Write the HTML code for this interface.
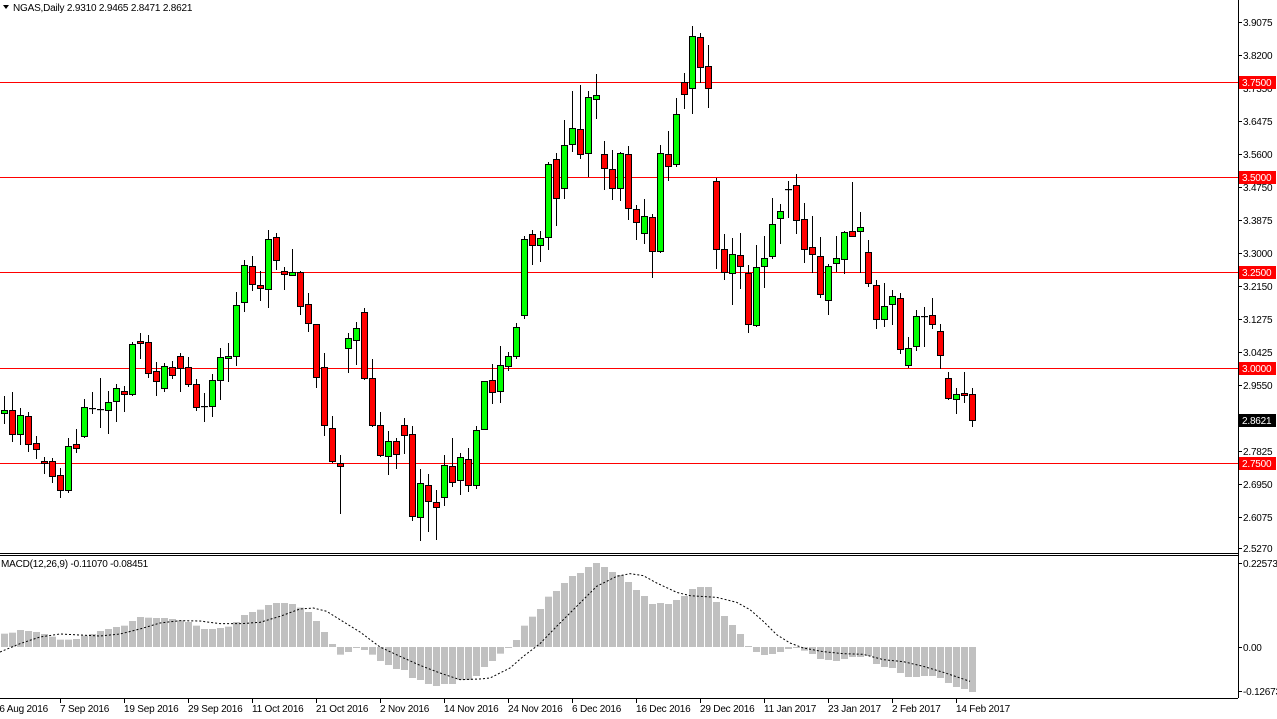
<!DOCTYPE html>
<html><head><meta charset="utf-8"><style>
html,body{margin:0;padding:0;background:#fff;width:1277px;height:719px;overflow:hidden}
svg{display:block}
text{font-family:"Liberation Sans",sans-serif;font-size:10px;letter-spacing:-0.2px;fill:#000}
</style></head><body>
<svg id="s" width="1277" height="719" viewBox="0 0 1277 719" xmlns="http://www.w3.org/2000/svg">
<rect x="0" y="0" width="1277" height="719" fill="#fff"/>
<g id="hist"></g>
<polyline id="sig" fill="none" stroke="#000" stroke-width="1" stroke-dasharray="2,2"/>
<g id="lines">
<line x1="0" y1="82.5" x2="1238" y2="82.5" stroke="#f00"/>
<line x1="0" y1="177.5" x2="1238" y2="177.5" stroke="#f00"/>
<line x1="0" y1="272.5" x2="1238" y2="272.5" stroke="#f00"/>
<line x1="0" y1="368.5" x2="1238" y2="368.5" stroke="#f00"/>
<line x1="0" y1="463.5" x2="1238" y2="463.5" stroke="#f00"/>
</g>
<g id="candles"></g>
<line x1="1238.5" y1="0" x2="1238.5" y2="698" stroke="#000"/>
<line x1="0" y1="553.5" x2="1238" y2="553.5" stroke="#000"/>
<line x1="0" y1="555.5" x2="1238" y2="555.5" stroke="#000"/>
<line x1="0" y1="698.5" x2="1238" y2="698.5" stroke="#000"/>
<g id="axis"></g>
<path d="M3 5 L9 5 L6 9 Z" fill="#000"/>
<text x="13" y="11">NGAS,Daily  2.9310 2.9465 2.8471 2.8621</text>
<text x="1" y="567">MACD(12,26,9) -0.11070 -0.08451</text>
</svg>
<script>
var NS="http://www.w3.org/2000/svg";
function el(p,t,a,txt){var e=document.createElementNS(NS,t);for(var k in a)e.setAttribute(k,a[k]);if(txt!=null)e.textContent=txt;p.appendChild(e);return e;}
var C=[[410,413,396,423,'g'],[410,434,392,441,'r'],[415,434,408,444,'g'],[416,444,412,451,'r'],[443,449,436,458,'r'],[461,463,457,473,'r'],[461,476,458,482,'r'],[475,490,468,497,'r'],[446,490,438,492,'g'],[444,448,429,452,'r'],
[407,436,399,437,'g'],[408,408,392,413,'d'],[409,409,378,427,'d'],[402,410,391,433,'g'],[388,401,384,421,'g'],[391,394,386,411,'r'],[344,394,342,395,'g'],[341,343,333,358,'r'],[342,373,335,377,'r'],[371,381,362,395,'r'],
[366,388,363,391,'g'],[367,375,361,378,'r'],[356,368,353,391,'r'],[367,384,357,386,'r'],[384,407,379,410,'r'],[406,406,393,421,'d'],[380,406,374,416,'g'],[357,380,348,399,'g'],[356,357,343,381,'g'],[305,356,292,365,'g'],
[265,302,260,311,'g'],[266,284,256,290,'r'],[285,288,271,300,'r'],[239,289,230,307,'g'],[237,260,233,269,'r'],[271,274,267,289,'r'],[272,275,249,275,'g'],[272,306,271,314,'r'],[304,323,293,331,'r'],[324,377,324,387,'r'],
[367,425,353,435,'r'],[428,461,416,462,'r'],[463,466,455,513,'r'],[338,348,333,372,'g'],[328,340,322,364,'g'],[312,378,308,379,'r'],[378,425,359,426,'r'],[425,455,412,456,'r'],[441,456,431,474,'g'],[441,454,438,468,'r'],
[425,435,418,453,'r'],[434,516,426,520,'r'],[483,517,469,540,'g'],[485,501,474,531,'r'],[502,507,490,539,'r'],[465,497,455,505,'g'],[466,482,438,486,'r'],[457,480,453,494,'g'],[459,485,448,491,'r'],[430,485,426,488,'g'],
[381,429,381,429,'g'],[380,392,364,403,'r'],[365,391,346,402,'g'],[356,366,352,370,'g'],[327,356,323,358,'g'],[239,315,236,318,'g'],[234,245,230,264,'r'],[238,245,231,261,'g'],[164,237,162,249,'g'],[159,198,153,225,'r'],
[145,188,120,198,'g'],[128,144,91,151,'g'],[129,154,85,158,'r'],[97,153,91,176,'g'],[95,99,74,118,'g'],[154,168,141,189,'r'],[169,188,150,199,'r'],[153,188,152,200,'g'],[154,208,146,219,'r'],[209,222,205,239,'r'],
[216,233,199,243,'g'],[217,251,214,277,'r'],[153,251,145,252,'g'],[154,166,131,180,'r'],[114,164,98,166,'g'],[82,94,73,108,'r'],[36,88,26,113,'g'],[37,67,33,82,'r'],[66,88,45,107,'r'],[181,249,178,268,'r'],
[249,272,234,279,'r'],[254,273,238,304,'g'],[255,266,233,288,'r'],[273,324,265,332,'r'],[267,325,245,326,'g'],[258,266,236,287,'g'],[224,256,198,258,'g'],[211,218,204,243,'g'],[189,189,181,217,'d'],[185,220,174,233,'r'],
[219,249,203,262,'r'],[247,254,216,272,'r'],[256,294,237,297,'r'],[266,300,264,314,'g'],[258,263,236,271,'g'],[232,259,231,273,'g'],[231,236,182,236,'r'],[227,231,212,272,'g'],[252,283,240,286,'r'],[285,319,280,328,'r'],
[306,319,283,326,'g'],[296,304,290,324,'g'],[298,349,293,353,'r'],[348,365,337,367,'g'],[316,346,310,350,'g'],[316,316,307,346,'d'],[315,324,298,328,'r'],[331,355,324,368,'r'],[378,398,372,399,'r'],[394,399,388,413,'g'],
[393,395,372,402,'r'],[394,420,388,426,'r']];
var cg=document.getElementById('candles');
C.forEach(function(c,i){var x=4+8*i;
 el(cg,'line',{x1:x+0.5,y1:c[2],x2:x+0.5,y2:c[3]+1,stroke:'#000','stroke-width':1});
 if(c[4]=='d'){el(cg,'rect',{x:x-3,y:c[0],width:7,height:1.2,fill:'#000'});}
 else{var h=Math.max(c[1]-c[0],2);el(cg,'rect',{x:x-2.5,y:c[0]+0.5,width:6,height:h,fill:c[4]=='g'?'#00ff00':'#ff0000',stroke:'#000','stroke-width':1});}
});
var H=[242,239,231,234,237,243,251,260,260,258,248,243,234,228,222,218,204,192,194,195,195,198,202,207,218,228,228,225,221,207,186,177,170,156,150,150,153,164,177,204,237,273,305,297,284,291,305,324,336,348,351,375,381,393,399,393,393,381,381,369,342,324,302,
285,261,218,191,168,131,114,90,69,60,42,30,42,57,66,87,111,129,153,150,153,141,129,108,102,102,147,189,216,243,279,297,306,303,297,288,285,293,303,318,321,324,318,312,312,309,333,342,345,360,372,372,369,369,375,390,402,408,417];
var hg=document.getElementById('hist');
H.forEach(function(z,i){var x=4+8*i;var y=553+z/3;var t=Math.min(y,647),b=Math.max(y,647);if(b-t<1)b=t+1;
 el(hg,'rect',{x:x-3,y:t,width:7,height:b-t,fill:'#c0c0c0'});});
var S1=[[0,297],[60,272],[120,252],[180,243],[240,246],[300,249],[360,243],[420,228],[480,210],[540,203],[600,204],[660,212],[720,212],[780,208],[840,190],[900,168],[940,165],[980,175],[1020,200],[1080,237],[1140,282],[1200,310],[1260,337],[1320,360],[1380,380],[1440,378],[1470,375]];
var S2=[[0,375],[60,345],[100,310],[150,272],[200,220],[260,160],[320,100],[380,70],[420,62],[460,68],[500,90],[560,118],[600,128],[680,133],[740,148],[780,170],[820,205],[860,245],[900,270],[940,285],[1000,296],[1060,302],[1120,304],[1180,320],[1240,326],[1300,340],[1360,358],[1440,385]];
var pts=S1.map(function(p){return (p[0]/3)+','+(553+p[1]/3)}).concat(S2.map(function(p){return (490+p[0]/3)+','+(553+p[1]/3)}));
document.getElementById('sig').setAttribute('points',pts.join(' '));
var ag=document.getElementById('axis');
var P=['3.9075','3.8200','3.7350','3.6475','3.5600','3.4750','3.3875','3.3000','3.2150','3.1275','3.0425','2.9550','2.8700','2.7825','2.6950','2.6075','2.5270'];
P.forEach(function(p){var y=Math.round(82+(3.75-parseFloat(p))*381);
 el(ag,'line',{x1:1238,y1:y+0.5,x2:1242,y2:y+0.5,stroke:'#000'});
 el(ag,'text',{x:1243,y:y+4},p);});
[[82,'3.7500'],[177,'3.5000'],[272,'3.2500'],[368,'3.0000'],[463,'2.7500']].forEach(function(a){
 el(ag,'rect',{x:1239,y:a[0]-6,width:37,height:13,fill:'#f00'});
 el(ag,'text',{x:1242,y:a[0]+4,style:'fill:#fff'},a[1]);});
el(ag,'rect',{x:1239,y:414,width:37,height:13,fill:'#000'});
el(ag,'text',{x:1242,y:424,style:'fill:#fff'},'2.8621');
[[563,'0.22573'],[647,'0.00'],[691,'-0.12673']].forEach(function(a){
 el(ag,'line',{x1:1238,y1:a[0]+0.5,x2:1242,y2:a[0]+0.5,stroke:'#000'});
 el(ag,'text',{x:1243,y:a[0]+4},a[1]);});
var D=[[-4,'26 Aug 2016'],[60,'7 Sep 2016'],[124,'19 Sep 2016'],[188,'29 Sep 2016'],[252,'11 Oct 2016'],[316,'21 Oct 2016'],[380,'2 Nov 2016'],[444,'14 Nov 2016'],[508,'24 Nov 2016'],[572,'6 Dec 2016'],[636,'16 Dec 2016'],[700,'29 Dec 2016'],[764,'11 Jan 2017'],[828,'23 Jan 2017'],[892,'2 Feb 2017'],[956,'14 Feb 2017']];
D.forEach(function(d){
 el(ag,'line',{x1:d[0]+0.5,y1:698,x2:d[0]+0.5,y2:703,stroke:'#000'});
 el(ag,'text',{x:d[0]==-4?-6:d[0],y:712},d[1]);});
</script>
</body></html>
